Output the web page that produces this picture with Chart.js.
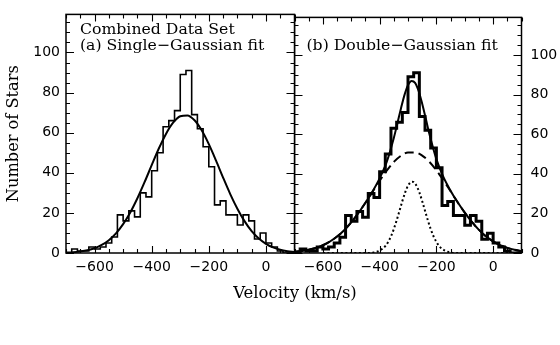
<!DOCTYPE html>
<html>
<head>
<meta charset="utf-8">
<script src="https://cdn.jsdelivr.net/npm/chart.js@4.4.0/dist/chart.umd.min.js"></script>
<style>
  html, body { margin: 0; padding: 0; background: #fff; }
  #wrap { position: relative; width: 560px; height: 345px; overflow: hidden; }
  #chartA { position: absolute; left: 0; top: 0; }
  #chartB { position: absolute; left: 294px; top: 0; }
  #xTitle { position: absolute; left: 0; width: 590px; top: 283px; text-align: center;
            font: 16.5px "DejaVu Serif"; color: #000; }
</style>
</head>
<body>
<div id="wrap">
  <canvas id="chartA" width="296" height="345"></canvas>
  <canvas id="chartB" width="266" height="345"></canvas>
  <div id="xTitle">Velocity (km/s)</div>
</div>
<script>
// --- data ---
const binStarts = [-700, -680, -660, -640, -620, -600, -580, -560, -540, -520,
                   -500, -480, -460, -440, -420, -400, -380, -360, -340, -320,
                   -300, -280, -260, -240, -220, -200, -180, -160, -140, -120,
                   -100, -80, -60, -40, -20, 0, 20, 40, 60, 80];
const binEnd = 100;
const starCounts = [0, 2, 1, 1, 3, 2, 3, 5, 8, 19,
                    16, 21, 18, 30, 28, 41, 50, 63, 66, 71,
                    89, 91, 69, 62, 53, 43, 24, 26, 19, 19,
                    14, 19, 16, 7, 10, 5, 3, 1, 0, 0];

const fitVel = [-700, -675, -650, -625, -600, -575, -550, -525, -500, -475, -450,
                -425, -400, -375, -350, -325, -300, -275, -250, -225, -200, -175,
                -150, -125, -100, -75, -50, -25, 0, 25, 50, 75, 100];
const singleFit = [0.2, 0.4, 0.8, 1.4, 2.4, 4.0, 6.4, 9.8, 14.4, 20.2, 27.3,
                   35.3, 43.8, 52.1, 59.4, 65.0, 68.2, 68.6, 66.2, 61.2, 54.3, 46.2,
                   37.6, 29.4, 22.1, 15.9, 10.9, 7.2, 4.6, 2.8, 1.6, 0.9, 0.5];
const broadFit = [0.6, 1.0, 1.6, 2.5, 3.9, 5.8, 8.3, 11.5, 15.5, 20.2, 25.4,
                  30.9, 36.5, 41.6, 46.0, 49.1, 50.8, 50.8, 49.2, 46.1, 41.8, 36.7,
                  31.2, 25.6, 20.4, 15.7, 11.7, 8.4, 5.9, 4.0, 2.6, 1.6, 1.0];

const doubleVel = [-700, -675, -650, -625, -600, -575, -550, -525, -500, -475, -450,
                   -425, -400, -375, -350, -337, -325, -312, -300, -287, -275, -262,
                   -250, -237, -225, -200, -175, -150, -125, -100, -75, -50, -25,
                   0, 25, 50, 75, 100];
const doubleFit = [0.6, 1.0, 1.6, 2.5, 3.9, 5.8, 8.3, 11.5, 15.5, 20.2, 25.4,
                   31.1, 37.7, 46.0, 58.1, 65.7, 72.9, 80.0, 84.8, 86.9, 85.9, 81.6,
                   75.4, 67.7, 60.3, 47.4, 38.3, 31.5, 25.6, 20.4, 15.7, 11.7, 8.4,
                   5.9, 4.0, 2.6, 1.6, 1.0];

const narrowVel = [-600, -430, -420, -410, -400, -390, -380, -370, -360, -350, -340,
                   -330, -320, -310, -300, -290, -285, -280, -270, -260, -250, -240,
                   -230, -220, -210, -200, -190, -180, -170, -160, -150, -140, 60];
const narrowFit = [0, 0, 0.3, 0.6, 1.2, 2.1, 3.5, 5.6, 8.4, 12.1, 16.5,
                   21.3, 26.2, 30.6, 34.0, 35.8, 36.0, 35.8, 34.0, 30.6, 26.2, 21.3,
                   16.5, 12.1, 8.4, 5.6, 3.5, 2.1, 1.2, 0.6, 0.3, 0, 0];

const xTickValues = [-600, -400, -200, 0];
const yTickValues = [0, 20, 40, 60, 80, 100];
const xRange = [-700, 100];
const yRange = [0, 119];

// --- helpers ---
const toPoints = (xs, ys) => xs.map((x, i) => ({ x: x, y: ys[i] }));
const histPoints = toPoints(binStarts, starCounts)
  .concat([{ x: binEnd, y: starCounts[starCounts.length - 1] }]);
const fmtTick = v => (v < 0 ? '\u2212' + Math.abs(v) : String(v));

// ramka + kreski podzialki skierowane do srodka, na wszystkich bokach
const frameTicks = {
  id: 'frameTicks',
  afterDatasetsDraw(chart) {
    const { ctx, chartArea: a, scales: { x, y } } = chart;
    ctx.save();
    ctx.strokeStyle = '#000';
    ctx.lineWidth = 1.1;
    ctx.beginPath();
    for (let v = xRange[0]; v <= xRange[1]; v += 50) {
      const px = Math.round(x.getPixelForValue(v)) + 0.5;
      const len = v % 200 === 0 ? 7 : 4;
      ctx.moveTo(px, a.bottom); ctx.lineTo(px, a.bottom - len);
      ctx.moveTo(px, a.top); ctx.lineTo(px, a.top + len);
    }
    for (let v = 0; v <= yRange[1]; v += 5) {
      const py = Math.round(y.getPixelForValue(v)) + 0.5;
      const len = v % 20 === 0 ? 8 : 4;
      ctx.moveTo(a.left, py); ctx.lineTo(a.left + len, py);
      ctx.moveTo(a.right, py); ctx.lineTo(a.right - len, py);
    }
    ctx.stroke();
    ctx.lineWidth = 1.5;
    ctx.strokeRect(a.left, a.top, a.right - a.left, a.bottom - a.top);
    ctx.restore();
  }
};

const panelText = {
  id: 'panelText',
  afterDraw(chart, args, opts) {
    const { ctx, chartArea: a } = chart;
    ctx.save();
    ctx.fillStyle = '#000';
    ctx.font = '15.7px "DejaVu Serif"';
    ctx.textBaseline = 'alphabetic';
    opts.lines.forEach((t, i) => ctx.fillText(t, a.left + opts.dx, opts.baselines[i]));
    ctx.restore();
  }
};

function baseOptions(side, yWidth, padding, textOpts, showTitle) {
  return {
    responsive: false,
    animation: false,
    layout: { padding: padding },
    plugins: {
      legend: { display: false },
      tooltip: { enabled: false },
      panelText: textOpts
    },
    scales: {
      x: {
        type: 'linear', min: xRange[0], max: xRange[1],
        grid: { display: false, drawTicks: false }, border: { display: false },
        afterBuildTicks: s => { s.ticks = xTickValues.map(v => ({ value: v })); },
        afterFit: s => { s.height = 92; },
        ticks: { padding: 6, color: '#000', font: { family: 'DejaVu Sans', size: 14 },
                 maxRotation: 0, callback: v => fmtTick(v) }
      },
      y: {
        type: 'linear', position: side, min: yRange[0], max: yRange[1],
        grid: { display: false, drawTicks: false }, border: { display: false },
        afterBuildTicks: s => { s.ticks = yTickValues.map(v => ({ value: v })); },
        afterFit: s => { s.width = yWidth; },
        ticks: { padding: side === 'left' ? 6 : 9, color: '#000',
                 font: { family: 'DejaVu Sans', size: 14 }, callback: v => fmtTick(v) },
        title: { display: showTitle, text: 'Number of Stars', color: '#000',
                 font: { family: 'DejaVu Serif', size: 16.2 }, padding: { top: 4, bottom: 0 } }
      }
    }
  };
}

new Chart(document.getElementById('chartA'), {
  type: 'line',
  data: {
    datasets: [
      { data: histPoints, stepped: 'before', borderColor: '#000', borderWidth: 1.6,
        pointRadius: 0, fill: false },
      { data: toPoints(fitVel, singleFit), borderColor: '#000', borderWidth: 2,
        pointRadius: 0, cubicInterpolationMode: 'monotone', fill: false }
    ]
  },
  options: baseOptions('left', 66, { top: 8, right: 1.5, bottom: 0, left: 0 },
    { lines: ['Combined Data Set', '(a) Single\u2212Gaussian fit'], baselines: [34, 50], dx: 14 }, true),
  plugins: [frameTicks, panelText]
});

new Chart(document.getElementById('chartB'), {
  type: 'line',
  data: {
    datasets: [
      { data: histPoints, stepped: 'before', borderColor: '#000', borderWidth: 3,
        pointRadius: 0, fill: false },
      { data: toPoints(doubleVel, doubleFit), borderColor: '#000', borderWidth: 2,
        pointRadius: 0, cubicInterpolationMode: 'monotone', fill: false },
      { data: toPoints(fitVel, broadFit), borderColor: '#000', borderWidth: 2,
        borderDash: [9, 5], pointRadius: 0, cubicInterpolationMode: 'monotone', fill: false },
      { data: toPoints(narrowVel, narrowFit), borderColor: '#000', borderWidth: 2,
        borderDash: [2, 2.5], pointRadius: 0, cubicInterpolationMode: 'monotone', fill: false }
    ]
  },
  options: baseOptions('right', 38.5, { top: 8, right: 0, bottom: 0, left: 0.5 },
    { lines: ['(b) Double\u2212Gaussian fit'], baselines: [50], dx: 12 }, false),
  plugins: [frameTicks, panelText]
});
</script>
</body>
</html>
